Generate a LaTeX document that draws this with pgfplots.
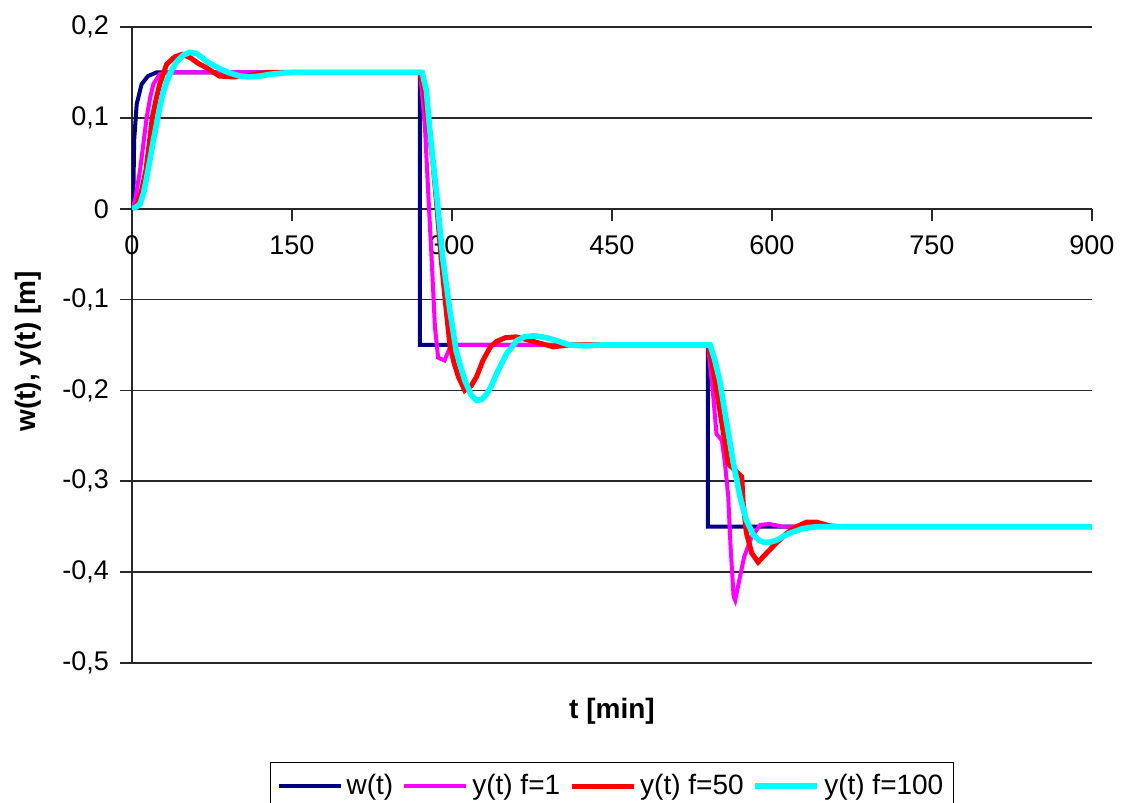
\documentclass[border=0pt]{standalone}
\usepackage{fontspec}
\setmainfont{Liberation Sans}
\usepackage{pgfplots}
\pgfplotsset{compat=1.18}

\definecolor{wnavy}{RGB}{0,0,128}
\definecolor{ymag}{RGB}{255,0,255}
\definecolor{yred}{RGB}{255,0,0}
\definecolor{ycyan}{RGB}{0,255,255}
\definecolor{gridc}{RGB}{40,40,40}

\begin{document}
\begin{tikzpicture}
\begin{axis}[
  scale only axis,
  width=480pt, height=318pt,
  xmin=0, xmax=900, ymin=-0.5, ymax=0.2,
  axis x line=middle, axis y line=left,
  axis line style={-, gridc, line width=0.9pt},
  xtick={0,150,300,450,600,750,900},
  xticklabels={0,150,300,450,600,750,900},
  ytick={-0.5,-0.4,-0.3,-0.2,-0.1,0,0.1,0.2},
  yticklabels={{-0,5},{-0,4},{-0,3},{-0,2},{-0,1},0,{0,1},{0,2}},
  ymajorgrids,
  grid style={gridc, line width=0.9pt},
  tick style={gridc, line width=0.9pt},
  major tick length=6pt,
  tick align=outside,
  hide obscured x ticks=false, hide obscured y ticks=false,
  ticklabel style={font=\fontsize{13.5}{16}\selectfont},
  xticklabel style={yshift=-4pt},
  yticklabel style={xshift=-2pt},
  xlabel={\textbf{t [min]}},
  ylabel={\textbf{w(t), y(t) [m]}},
  x label style={at={(axis description cs:0.5,-0.0755)}, anchor=center, font=\fontsize{14}{16}\selectfont},
  y label style={at={(axis description cs:-0.1083,0.49)}, anchor=center, rotate=0, font=\fontsize{14}{16}\selectfont},
  legend style={at={(axis description cs:0.5,-0.1557)}, anchor=north,
    draw=black, line width=0.6pt, fill=white,
    font=\fontsize{14}{16}\selectfont,
    inner xsep=3pt, inner ysep=4pt,
    /tikz/every even column/.append style={column sep=2.5pt}},
  legend columns=4,
  legend cell align=left,
  legend image code/.code={\draw[#1] (0pt,0pt) -- (31pt,0pt);},
]
% set point w(t)
\addplot[wnavy, line width=2pt] coordinates {
 (0,0) (1.2,0.01) (2,0.075) (4.4,0.115) (9,0.137) (15,0.146) (23,0.15)
 (270,0.15) (270,-0.15) (540,-0.15) (540,-0.35) (900,-0.35)};
\addlegendentry{w(t)}
% response, f = 1
\addplot[ymag, line width=2pt] coordinates {
 (0,0) (3,0.01) (7.5,0.042) (10.5,0.07) (13.7,0.1) (17,0.122) (20,0.137)
 (26,0.148) (32,0.15) (270,0.15) (272,0.126) (274.7,0.089) (277.8,0.016)
 (281,-0.057) (284,-0.13) (287,-0.164) (293,-0.167) (298,-0.153) (303,-0.15)
 (540,-0.15) (545,-0.207) (548,-0.248) (553,-0.255) (556,-0.281) (559,-0.317)
 (561,-0.368) (564,-0.427) (565.5,-0.431) (570,-0.405) (574,-0.383)
 (581,-0.361) (589,-0.348) (598,-0.347) (610,-0.35) (900,-0.35)};
\addlegendentry{y(t) f=1}
% response, f = 50
\addplot[yred, line width=2.5pt] coordinates {
 (0,0) (5,0.005) (9,0.02) (13,0.042) (16,0.07) (19,0.1) (22.5,0.12)
 (26,0.137) (32.5,0.159) (40,0.167) (47,0.17) (55,0.166) (62,0.16)
 (70,0.155) (82,0.146) (95,0.145) (107,0.146) (126,0.15) (270,0.15)
 (274,0.13) (278,0.09) (282,0.053) (286,0) (290,-0.057) (294,-0.105)
 (298,-0.15) (302,-0.17) (306,-0.185) (312,-0.2) (318,-0.195) (323,-0.185)
 (329,-0.167) (336,-0.152) (342,-0.146) (350,-0.142) (360,-0.141)
 (376,-0.146) (395,-0.152) (410,-0.15) (540,-0.15) (543,-0.165)
 (546.6,-0.189) (553,-0.236) (559,-0.281) (565.5,-0.288) (571.6,-0.295)
 (573,-0.324) (576,-0.357) (581,-0.379) (587,-0.389) (595,-0.379)
 (604,-0.368) (614,-0.357) (623,-0.35) (632.5,-0.345) (642,-0.345)
 (654,-0.349) (665,-0.35) (900,-0.35)};
\addlegendentry{y(t) f=50}
% response, f = 100
\addplot[ycyan, line width=2.8pt] coordinates {
 (0,0) (4,0.002) (7.5,0.005) (11,0.018) (13.7,0.034) (17,0.055) (20,0.075)
 (23,0.093) (26,0.111) (29,0.127) (32.5,0.14) (37,0.152) (42,0.162)
 (48,0.169) (54,0.172) (60,0.171) (65,0.167) (70,0.162) (76,0.158)
 (82.5,0.154) (90,0.15) (101,0.146) (110,0.145) (120,0.146) (130,0.148)
 (139,0.149) (150,0.15) (272,0.15) (276,0.13) (279,0.089) (282,0.055)
 (285.6,0.016) (291.6,-0.057) (298,-0.112) (304,-0.157) (312,-0.189)
 (318,-0.205) (323,-0.211) (328,-0.21) (332.5,-0.204) (337,-0.195)
 (342,-0.181) (351,-0.16) (361,-0.145) (368,-0.141) (376,-0.14)
 (384,-0.141) (392,-0.143) (400,-0.146) (410,-0.15) (426,-0.151)
 (440,-0.15) (542,-0.15) (546,-0.165) (551,-0.189) (557.5,-0.236)
 (564,-0.281) (570,-0.317) (576,-0.343) (582.5,-0.359) (588,-0.365)
 (592,-0.367) (598,-0.367) (604,-0.365) (610,-0.361) (617,-0.357)
 (629,-0.352) (642,-0.35) (900,-0.35)};
\addlegendentry{y(t) f=100}
\end{axis}
\pgfresetboundingbox
\path[use as bounding box] (-66pt,-70pt) rectangle (499.5pt,331.5pt);
\end{tikzpicture}
\end{document}
